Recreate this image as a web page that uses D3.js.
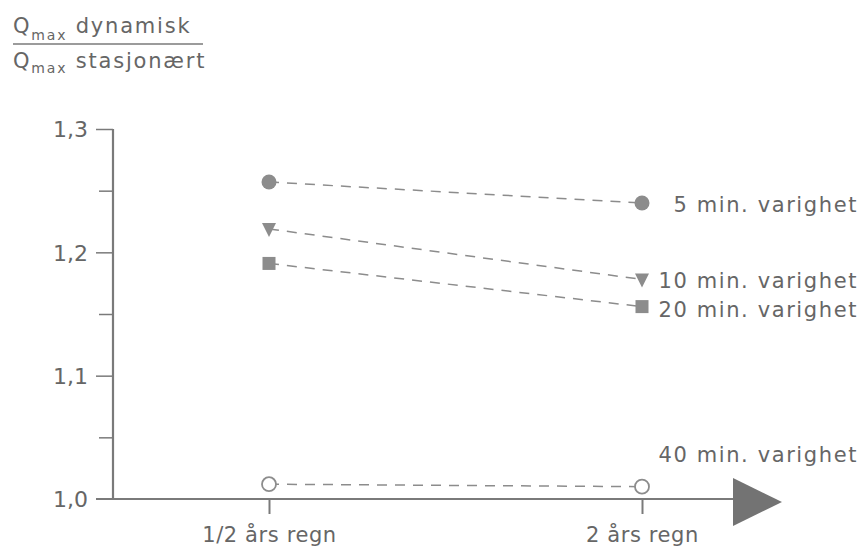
<!DOCTYPE html>
<html>
<head>
<meta charset="utf-8">
<script src="https://cdn.jsdelivr.net/npm/d3@7"></script>
<style>
  html, body { margin: 0; padding: 0; background: #ffffff; }
  svg { display: block; }
  text { font-family: "DejaVu Sans", "Liberation Sans", sans-serif; fill: #666666; }
</style>
</head>
<body>
<svg id="chart" width="865" height="551"></svg>
<script>
// ---- data ----
const categories = ["1/2 års regn", "2 års regn"];
const seriesNames = ["5 min. varighet", "10 min. varighet", "20 min. varighet", "40 min. varighet"];
const values5min = [1.257, 1.240];
const values10min = [1.219, 1.178];
const values20min = [1.191, 1.156];
const values40min = [1.012, 1.010];
const majorTicks = [1.0, 1.1, 1.2, 1.3];
const majorTickLabels = ["1,0", "1,1", "1,2", "1,3"];
const minorTicks = [1.05, 1.15, 1.25];

// ---- setup ----
const svg = d3.select("#chart");
const axisColor = "#7a7a7a";
const markColor = "#8c8c8c";
const fontFam = "'DejaVu Sans', 'Liberation Sans', sans-serif";

const y = d3.scaleLinear().domain([1.0, 1.3]).range([499, 129]);
const x = d3.scalePoint().domain(categories).range([269, 642]);

// title (fraction)
const t1 = svg.append("text").attr("x", 13).attr("y", 33)
  .style("font-size", "21px").style("letter-spacing", "1.8px");
t1.append("tspan").text("Q");
t1.append("tspan").attr("dy", 7).style("font-size", "14px").text("max");
t1.append("tspan").attr("dy", -7).text(" dynamisk");
svg.append("line").attr("x1", 13).attr("x2", 203).attr("y1", 44).attr("y2", 44)
  .attr("stroke", axisColor).attr("stroke-width", 1.5);
const t2 = svg.append("text").attr("x", 13).attr("y", 68)
  .style("font-size", "21px").style("letter-spacing", "1.8px");
t2.append("tspan").text("Q");
t2.append("tspan").attr("dy", 5).style("font-size", "14px").text("max");
t2.append("tspan").attr("dy", -5).text(" stasjonært");

// y axis
const yAxis = d3.axisLeft(y).tickValues(majorTicks)
  .tickFormat((d, i) => majorTickLabels[i]).tickSize(17).tickPadding(8);
const gy = svg.append("g").attr("transform", "translate(113,0)").call(yAxis);
gy.select(".domain").remove();
gy.selectAll(".tick line").attr("stroke", axisColor).attr("stroke-width", 1.5);
gy.selectAll(".tick text").style("font-size", "22px").attr("fill", "#666666")
  .style("font-family", fontFam).attr("dy", "0.36em");
gy.selectAll(".tick").filter(d => d === 1.0).select("line").remove();

const yMinor = d3.axisLeft(y).tickValues(minorTicks).tickFormat("").tickSize(14);
const gym = svg.append("g").attr("transform", "translate(113,0)").call(yMinor);
gym.select(".domain").remove();
gym.selectAll(".tick line").attr("stroke", axisColor).attr("stroke-width", 1.5);

// axis lines
svg.append("line").attr("x1", 113).attr("x2", 113).attr("y1", y(1.3)).attr("y2", y(1.0))
  .attr("stroke", axisColor).attr("stroke-width", 2.2);
svg.append("line").attr("x1", 96).attr("x2", 740).attr("y1", y(1.0)).attr("y2", y(1.0))
  .attr("stroke", axisColor).attr("stroke-width", 2.2);
// arrow head
svg.append("path")
  .attr("d", `M733,${y(1.0) - 21} L782,${y(1.0) + 3} L733,${y(1.0) + 27} Z`)
  .attr("fill", "#737373");

// x axis ticks + labels
const xAxis = d3.axisBottom(x).tickSize(15).tickPadding(13);
const gx = svg.append("g").attr("transform", `translate(0,${y(1.0)})`).call(xAxis);
gx.select(".domain").remove();
gx.selectAll(".tick line").attr("stroke", axisColor).attr("stroke-width", 2);
gx.selectAll(".tick text").style("font-size", "21px").attr("fill", "#666666")
  .style("font-family", fontFam).style("letter-spacing", "0.6px");

// series
const series = [
  { name: seriesNames[0], values: values5min, shape: "circle", filled: true, dy: 9 },
  { name: seriesNames[1], values: values10min, shape: "triangle", filled: true, dy: 9 },
  { name: seriesNames[2], values: values20min, shape: "square", filled: true, dy: 10 },
  { name: seriesNames[3], values: values40min, shape: "circle", filled: false, dy: -25 }
];

const line = d3.line().x((d, i) => x(categories[i])).y(d => y(d));

series.forEach(s => {
  svg.append("path").datum(s.values).attr("d", line)
    .attr("fill", "none").attr("stroke", markColor).attr("stroke-width", 1.5)
    .attr("stroke-dasharray", "10,8");

  s.values.forEach((v, i) => {
    const cx = x(categories[i]), cy = y(v);
    if (s.shape === "circle") {
      svg.append("circle").attr("cx", cx).attr("cy", cy).attr("r", s.filled ? 7.5 : 7)
        .attr("fill", s.filled ? markColor : "#ffffff")
        .attr("stroke", s.filled ? "none" : markColor).attr("stroke-width", 1.8);
    } else if (s.shape === "triangle") {
      svg.append("path").attr("transform", `translate(${cx},${cy})`)
        .attr("d", "M-7,-6 L7,-6 L0,8 Z").attr("fill", markColor);
    } else {
      svg.append("rect").attr("x", cx - 6.5).attr("y", cy - 6.5)
        .attr("width", 13).attr("height", 13).attr("fill", markColor);
    }
  });

  svg.append("text").attr("x", 858).attr("y", y(s.values[1]) + s.dy)
    .attr("text-anchor", "end").style("font-size", "21px")
    .style("letter-spacing", "1.6px").text(s.name);
});
</script>
</body>
</html>
